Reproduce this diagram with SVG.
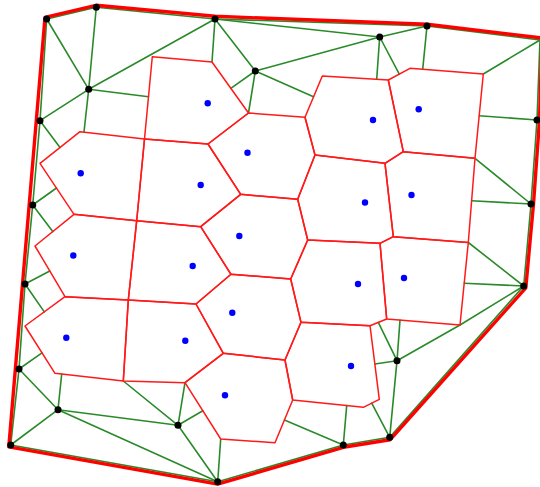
<svg xmlns="http://www.w3.org/2000/svg" width="540" height="487" viewBox="0 0 540 487">
<style>
.cell{fill:none;stroke:#ff1a1a;stroke-width:1.5;stroke-linejoin:round}
.hull{fill:none;stroke:#ff0000;stroke-width:3.4;stroke-linejoin:round}
.g line,.g polyline{stroke:#2a8a2a;stroke-width:1.6;fill:none;stroke-linecap:round}
.pt{fill:#000}
.seed{fill:#0000ff}
</style>
<rect width="540" height="487" fill="#fff"/>
<g id="connectors" class="g">
<polyline points="46.7,19 40,120.7 32.7,205 25,284 19,369 10.7,445"/>
<line x1="46.7" y1="19" x2="96.3" y2="7.3"/>
<line x1="96.3" y1="7.3" x2="215" y2="19"/>
<line x1="215" y1="19" x2="427" y2="26"/>
<line x1="427" y1="26" x2="540" y2="40"/>
<line x1="540" y1="40" x2="537" y2="120"/>
<line x1="537" y1="120" x2="531" y2="204"/>
<line x1="531" y1="204" x2="523.7" y2="286"/>
<line x1="523.7" y1="286" x2="389.7" y2="437.3"/>
<line x1="389.7" y1="437.3" x2="343.3" y2="445"/>
<line x1="343.3" y1="445" x2="217.7" y2="481.7"/>
<line x1="217.7" y1="481.7" x2="10.7" y2="445"/>
<line x1="46.7" y1="19" x2="88.7" y2="89.3"/>
<line x1="96.3" y1="7.3" x2="88.7" y2="89.3"/>
<line x1="88.7" y1="89.3" x2="84" y2="132"/>
<line x1="88.7" y1="89.3" x2="215" y2="19"/>
<line x1="88.7" y1="89.3" x2="148.5" y2="96.7"/>
<line x1="88.7" y1="89.3" x2="40" y2="120.7"/>
<line x1="40" y1="120.7" x2="60" y2="147.5"/>
<line x1="215" y1="19" x2="379.7" y2="37"/>
<line x1="215" y1="19" x2="212" y2="62"/>
<line x1="215" y1="19" x2="255.3" y2="71"/>
<line x1="255.3" y1="71" x2="230.8" y2="88.3"/>
<line x1="255.3" y1="71" x2="248.5" y2="113"/>
<line x1="255.3" y1="71" x2="313.5" y2="96.7"/>
<line x1="255.3" y1="71" x2="379.7" y2="37"/>
<line x1="379.7" y1="37" x2="427" y2="26"/>
<line x1="379.7" y1="37" x2="376.7" y2="79.3"/>
<line x1="379.7" y1="37" x2="399.3" y2="74.1"/>
<line x1="427" y1="26" x2="422.7" y2="69.3"/>
<line x1="483.3" y1="74" x2="540" y2="40"/>
<line x1="479.2" y1="115.7" x2="537" y2="120"/>
<line x1="475" y1="158.3" x2="531" y2="204"/>
<line x1="471.6" y1="200.7" x2="531" y2="204"/>
<line x1="468.3" y1="242.5" x2="523.7" y2="286"/>
<line x1="464.2" y1="283.3" x2="523.7" y2="286"/>
<line x1="523.7" y1="286" x2="460" y2="325"/>
<line x1="460" y1="325" x2="397" y2="360.7"/>
<line x1="400" y1="320.1" x2="397" y2="360.7"/>
<line x1="378.3" y1="322.4" x2="397" y2="360.7"/>
<line x1="374.8" y1="364" x2="397" y2="360.7"/>
<line x1="397" y1="360.7" x2="389.7" y2="437.3"/>
<line x1="371.7" y1="403.1" x2="389.7" y2="437.3"/>
<line x1="343.3" y1="445" x2="346.7" y2="405.6"/>
<line x1="343.3" y1="445" x2="284.4" y2="420"/>
<line x1="217.7" y1="481.7" x2="220.7" y2="439"/>
<line x1="217.7" y1="481.7" x2="178" y2="425.3"/>
<line x1="217.7" y1="481.7" x2="58" y2="409.7"/>
<line x1="178" y1="425.3" x2="202.8" y2="410.7"/>
<line x1="178" y1="425.3" x2="185" y2="382.7"/>
<line x1="178" y1="425.3" x2="123.3" y2="381"/>
<line x1="178" y1="425.3" x2="58" y2="409.7"/>
<line x1="58" y1="409.7" x2="61.7" y2="374"/>
<line x1="58" y1="409.7" x2="19" y2="369"/>
<line x1="58" y1="409.7" x2="10.7" y2="445"/>
<line x1="19" y1="369" x2="42" y2="352.8"/>
<line x1="25" y1="284" x2="44.3" y2="311.9"/>
<line x1="25" y1="284" x2="49.8" y2="271"/>
<line x1="32.7" y1="205" x2="52.7" y2="231.6"/>
<line x1="32.7" y1="205" x2="56.5" y2="188"/>
</g>
<g id="hull"><polygon class="hull" points="45,17.3 96,5.3 215,16.3 427,24.3 542,38 539.5,120 533.5,204 525.8,287.8 390,439.8 343.3,447.3 217.7,484.2 8.8,446.8"/></g>
<g id="cells">
<g id="c1"><polygon class="cell" points="152.3,56.7 212,62 248.5,113 208,144 144.5,139"/><circle class="seed" cx="207.7" cy="103.3" r="3.2"/></g>
<g id="c2"><polygon class="cell" points="80,131.7 144.5,139 136.7,220.7 74,214.3 40,163.3"/><circle class="seed" cx="80.7" cy="173.3" r="3.2"/></g>
<g id="c3"><polygon class="cell" points="144.5,139 208,144 240.7,194.3 200.7,226.7 136.7,220.7"/><circle class="seed" cx="200.7" cy="185" r="3.2"/></g>
<g id="c4"><polygon class="cell" points="208,144 248.5,113 305,117.3 315,155 297.7,199.3 240.7,194.3"/><circle class="seed" cx="247.5" cy="152.7" r="3.2"/></g>
<g id="c5"><polygon class="cell" points="240.7,194.3 297.7,199.3 307.7,240 290.7,279 231,274.3 200.7,226.7"/><circle class="seed" cx="239.3" cy="236" r="3.2"/></g>
<g id="c6"><polygon class="cell" points="305,117.3 322.3,76 388.3,80 403.3,151.7 385,163.3 315,155"/><circle class="seed" cx="373" cy="120" r="3.2"/></g>
<g id="c7"><polygon class="cell" points="388.3,80 410,68.3 483.3,74 475,158.3 403.3,151.7"/><circle class="seed" cx="418.7" cy="109.3" r="3.2"/></g>
<g id="c8"><polygon class="cell" points="315,155 385,163.3 393.3,236.7 380,243.3 307.7,240 297.7,199.3"/><circle class="seed" cx="365" cy="202.5" r="3.2"/></g>
<g id="c9"><polygon class="cell" points="403.3,151.7 475,158.3 468.3,242.5 393.3,236.7 385,163.3"/><circle class="seed" cx="411.5" cy="195" r="3.2"/></g>
<g id="c10"><polygon class="cell" points="307.7,240 380,243.3 386.7,319 370,325.7 301,322.3 290.7,279"/><circle class="seed" cx="358" cy="284" r="3.2"/></g>
<g id="c11"><polygon class="cell" points="393.3,236.7 468.3,242.5 460,325 386.7,319 380,243.3"/><circle class="seed" cx="404" cy="278" r="3.2"/></g>
<g id="c12"><polygon class="cell" points="301,322.3 370,325.7 379.3,399.3 363.3,407.3 292.7,400 285,360"/><circle class="seed" cx="351" cy="366" r="3.2"/></g>
<g id="c13"><polygon class="cell" points="231,274.3 290.7,279 301,322.3 285,360 223.3,353.3 196,304"/><circle class="seed" cx="232.3" cy="312.7" r="3.2"/></g>
<g id="c14"><polygon class="cell" points="223.3,353.3 285,360 292.7,400 275,442.7 220.7,439 185,382.7"/><circle class="seed" cx="225" cy="395.3" r="3.2"/></g>
<g id="c15"><polygon class="cell" points="136.7,220.7 200.7,226.7 231,274.3 196,304 128.3,300"/><circle class="seed" cx="192.7" cy="266" r="3.2"/></g>
<g id="c16"><polygon class="cell" points="74,214.3 136.7,220.7 128.3,300 65,296.7 35,246"/><circle class="seed" cx="73.3" cy="255.5" r="3.2"/></g>
<g id="c17"><polygon class="cell" points="128.3,300 196,304 223.3,353.3 185,382.7 123.3,381"/><circle class="seed" cx="185.3" cy="340.7" r="3.2"/></g>
<g id="c18"><polygon class="cell" points="65,296.7 128.3,300 123.3,381 55,373.3 25,326"/><circle class="seed" cx="66.3" cy="337.7" r="3.2"/></g>
</g>
<g id="points">
<circle class="pt" cx="46.7" cy="19" r="3.5"/>
<circle class="pt" cx="96.3" cy="7.3" r="3.5"/>
<circle class="pt" cx="88.7" cy="89.3" r="3.5"/>
<circle class="pt" cx="40" cy="120.7" r="3.5"/>
<circle class="pt" cx="215" cy="19" r="3.5"/>
<circle class="pt" cx="255.3" cy="71" r="3.5"/>
<circle class="pt" cx="379.7" cy="37" r="3.5"/>
<circle class="pt" cx="427" cy="26" r="3.5"/>
<circle class="pt" cx="537" cy="120" r="3.5"/>
<circle class="pt" cx="32.7" cy="205" r="3.5"/>
<circle class="pt" cx="25" cy="284" r="3.5"/>
<circle class="pt" cx="531" cy="204" r="3.5"/>
<circle class="pt" cx="523.7" cy="286" r="3.5"/>
<circle class="pt" cx="19" cy="369" r="3.5"/>
<circle class="pt" cx="58" cy="409.7" r="3.5"/>
<circle class="pt" cx="10.7" cy="445" r="3.5"/>
<circle class="pt" cx="178" cy="425.3" r="3.5"/>
<circle class="pt" cx="217.7" cy="481.7" r="3.5"/>
<circle class="pt" cx="343.3" cy="445" r="3.5"/>
<circle class="pt" cx="397" cy="360.7" r="3.5"/>
<circle class="pt" cx="389.7" cy="437.3" r="3.5"/>
</g>
</svg>
